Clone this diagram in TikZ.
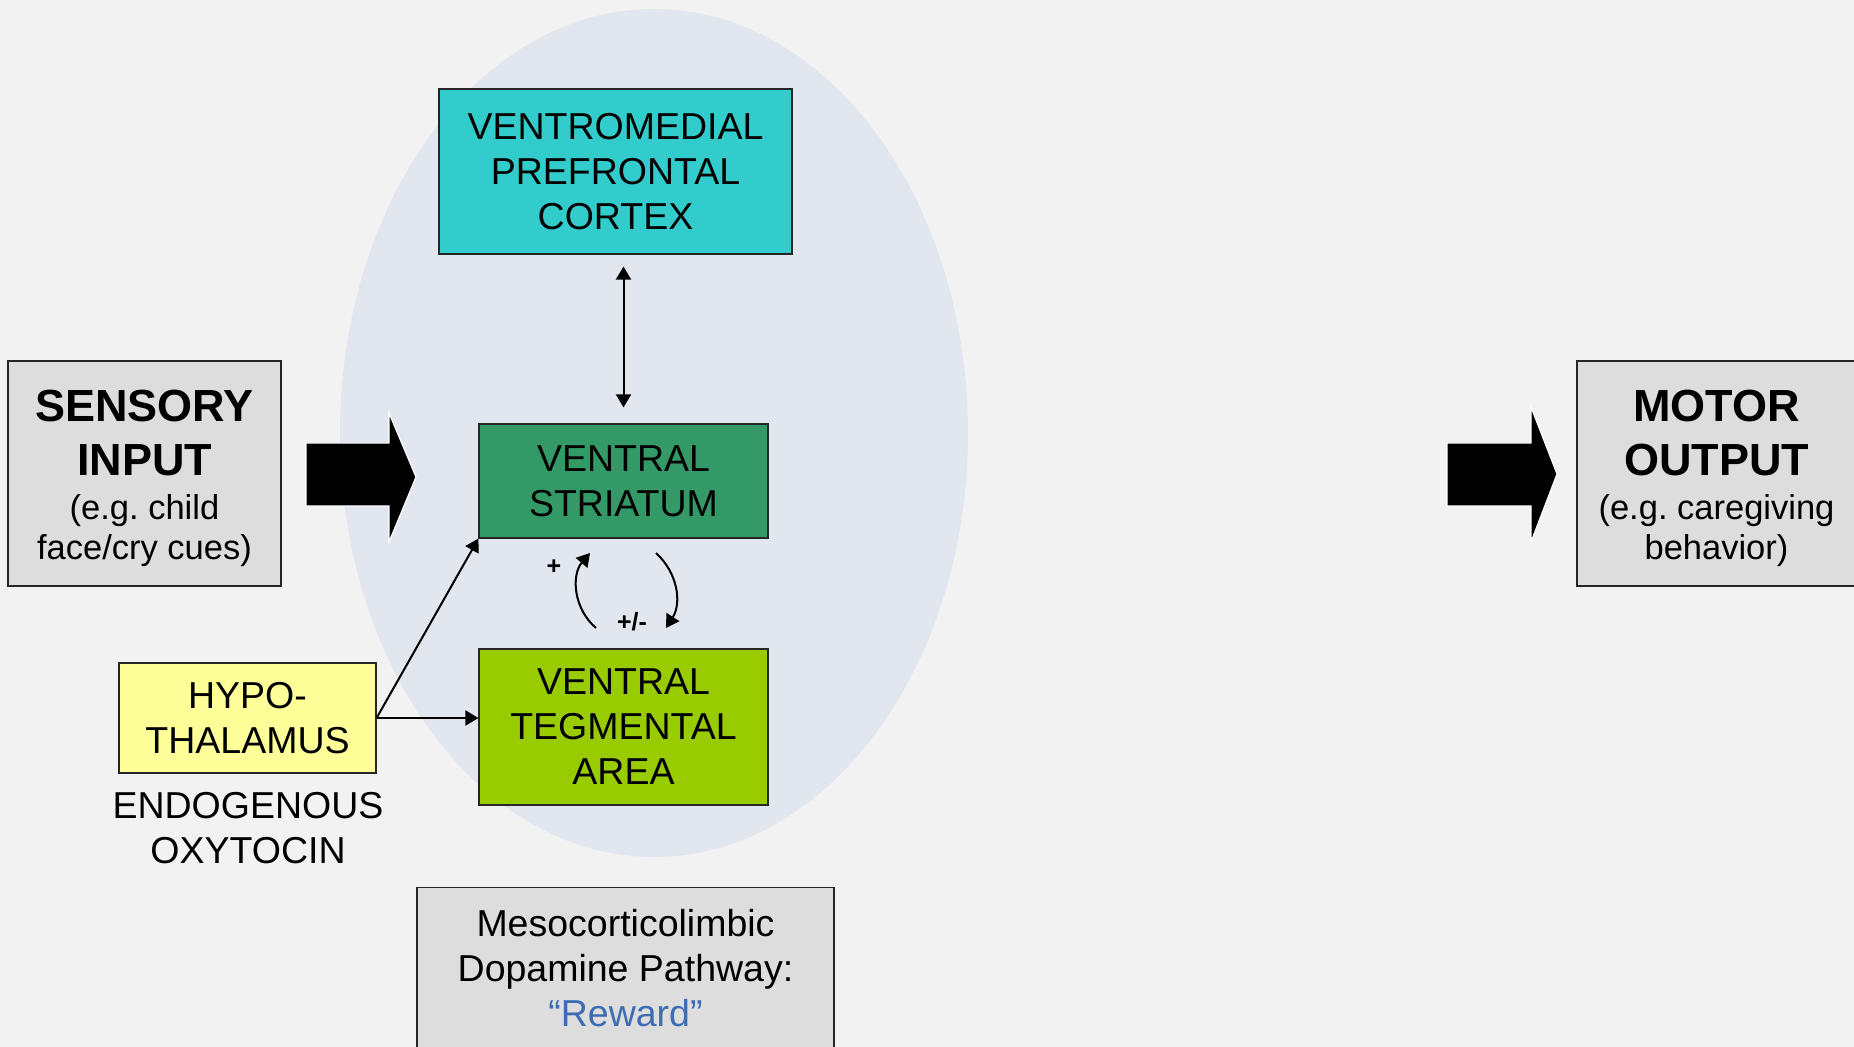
\documentclass[tikz,border=0pt]{standalone}
\usepackage{fontspec}
\setmainfont{Liberation Sans}
\usetikzlibrary{arrows.meta}
\frenchspacing

\definecolor{bg}{HTML}{F2F2F2}
\definecolor{ellfill}{HTML}{E2E7EF}
\definecolor{vmpfcfill}{HTML}{33CCCC}
\definecolor{vsfill}{HTML}{339966}
\definecolor{vtafill}{HTML}{99CC00}
\definecolor{hypfill}{HTML}{FFFF99}
\definecolor{grayfill}{HTML}{DDDDDD}
\definecolor{rewardblue}{HTML}{3D6CB5}

\begin{document}
\begin{tikzpicture}[x=0.5pt,y=-0.5pt,
  box/.style={draw=black!85, line width=0.6pt, inner sep=0pt, align=center,
    font=\fontsize{18.75}{22.5}\selectfont},
  iobox/.style={box, fill=grayfill, minimum height=112.5pt, font=\fontsize{17.25}{20}\selectfont},
  plain/.style={inner sep=0pt, align=center, font=\fontsize{18.75}{22.5}\selectfont},
  conn/.style={line width=1pt, -{Triangle[width=7.5pt,length=6.5pt]}},
  dconn/.style={line width=1pt, {Triangle[width=7.5pt,length=6.5pt]}-{Triangle[width=7.5pt,length=6.5pt]}},
  bigarrow/.style={fill=black, draw=white, line width=0.6pt},
  sign/.style={font=\fontsize{12.5}{14}\selectfont\bfseries, inner sep=0pt}
]
\newcommand\iobold[1]{{\fontsize{22.5}{27}\selectfont\bfseries #1}}
\clip (0,0) rectangle (1854,1047);
\fill[bg] (0,0) rectangle (1854,1047);
\fill[ellfill] (654,433) ellipse [x radius=157pt, y radius=212pt];

% boxes
\node[box, fill=vmpfcfill, minimum width=176.5pt, minimum height=82.5pt] (vmpfc) at (615.5,171.5)
  {VENTROMEDIAL\\PREFRONTAL\\CORTEX};
\node[box, fill=vsfill, minimum width=144.5pt, minimum height=57pt] (vs) at (623.5,481)
  {VENTRAL\\STRIATUM};
\node[box, fill=vtafill, minimum width=144.5pt, minimum height=78pt] (vta) at (623.5,727)
  {VENTRAL\\TEGMENTAL\\AREA};
\node[box, fill=hypfill, minimum width=128.5pt, minimum height=55pt] (hyp) at (247.5,718)
  {HYPO-\\THALAMUS};
\node[plain] (oxy) at (248,828) {ENDOGENOUS\\OXYTOCIN};

\node[iobox, minimum width=136.5pt] (sensory) at (144.5,473.5)
  {\rule{0pt}{20.5pt}\iobold{SENSORY}\\[7pt]\iobold{INPUT}\\[2.25pt](e.g. child\\face/cry cues)};
\node[iobox, minimum width=139.5pt] (motor) at (1716.5,473.5)
  {\rule{0pt}{20.5pt}\iobold{MOTOR}\\[7pt]\iobold{OUTPUT}\\[2.25pt](e.g. caregiving\\behavior)};
\node[box, fill=grayfill, minimum width=208.5pt, minimum height=81pt] (meso) at (625.5,968.5)
  {Mesocorticolimbic\\Dopamine Pathway:\\\textcolor{rewardblue}{“Reward”}};

% big block arrows
\draw[bigarrow] (306,443) -- (389,443) -- (389,413) -- (416,477) -- (389,542) -- (389,506) -- (306,506) -- cycle;
\draw[bigarrow] (1447,443) -- (1531,443) -- (1531,407) -- (1557,474) -- (1531,542) -- (1531,506) -- (1447,506) -- cycle;

% connectors
\draw[dconn, shorten <=6pt, shorten >=8pt] (vmpfc.south -| vs.north) -- (vs.north);
\draw[conn] (hyp.east) -- (vs.south west);
\draw[conn] (hyp.east) -- (hyp.east -| vta.west);

\coordinate (la) at (596,628);
\coordinate (lb) at (590,553);
\coordinate (ra) at (656,553);
\coordinate (rb) at (666,628);
\draw[conn] (la) to[bend left=45] (lb);
\draw[conn] (ra) to[bend left=40] (rb);

\node[sign] (plus) at (554,567) {+};
\node[sign] (pm) at (632,622) {+/-};
\end{tikzpicture}
\end{document}
